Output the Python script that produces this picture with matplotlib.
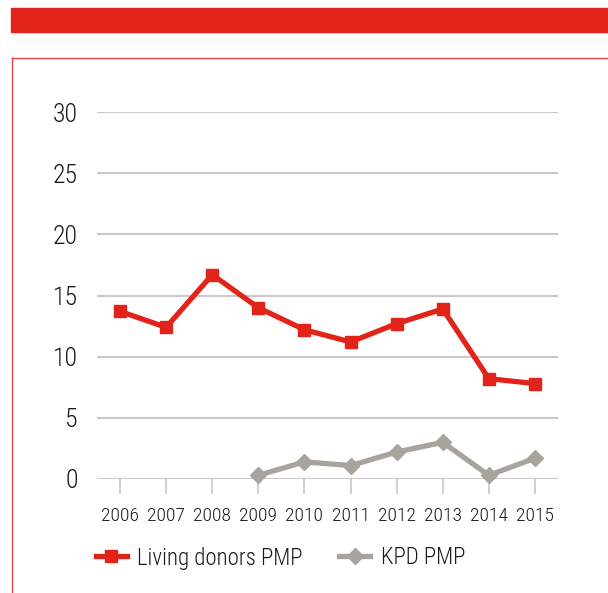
import matplotlib
matplotlib.use("Agg")
import matplotlib.pyplot as plt
from matplotlib.patches import Rectangle
from matplotlib.lines import Line2D
import numpy as np

years = ['2006', '2007', '2008', '2009', '2010', '2011', '2012', '2013', '2014', '2015']
living_donors = [13.7, 12.4, 16.7, 14.0, 12.2, 11.2, 12.7, 13.9, 8.2, 7.8]
kpd = [np.nan, np.nan, np.nan, 0.3, 1.4, 1.1, 2.2, 3.0, 0.3, 1.7]

red = '#E2231A'
grey = '#A8A39D'
grid_col = '#C8C8C8'
text_col = '#1a1a1a'

plt.rcParams['font.family'] = ['Roboto Condensed', 'DejaVu Sans']
plt.rcParams['font.weight'] = 'light'

fig = plt.figure(figsize=(6.08, 5.93), dpi=100)

# red banner and the thin frame round the panel
fig.patches.append(Rectangle((11 / 608, 1 - 32 / 593), 1, 24 / 593,
                             transform=fig.transFigure, color=red, zorder=0))
fig.lines.append(Line2D([12 / 608, 12 / 608], [0, 1 - 58 / 593],
                        transform=fig.transFigure, color='#E84545', lw=1))
fig.lines.append(Line2D([12 / 608, 1], [1 - 58 / 593, 1 - 58 / 593],
                        transform=fig.transFigure, color='#E84545', lw=1))

ax = fig.add_axes([97 / 608, 1 - 479 / 593, 461 / 608, 367 / 593])
x = np.arange(len(years))

ax.plot(x, living_donors, color=red, lw=3.8, marker='s', ms=8,
        label='Living donors PMP', clip_on=False, zorder=3)
ax.plot(x, kpd, color=grey, lw=3.8, marker='D', ms=8.5,
        label='KPD PMP', clip_on=False, zorder=3)

ax.set_xlim(-0.5, 9.5)
ax.set_ylim(0, 30)
ax.set_yticks(range(0, 31, 5))
ax.set_xticks(x)
ax.set_xticklabels(years)
ax.yaxis.grid(True, color=grid_col, lw=1.5)
ax.set_axisbelow(True)
for s in ax.spines.values():
    s.set_visible(False)

ax.tick_params(axis='y', length=0, labelsize=18.5, pad=14, colors=text_col)
ax.tick_params(axis='x', length=11, width=1.2, color=grid_col,
               labelsize=14, pad=9, labelcolor=text_col)

fig.legend(*ax.get_legend_handles_labels(), loc='center left',
           bbox_to_anchor=(96 / 608, 1 - 558 / 593), ncol=2,
           frameon=False, fontsize=16.5, handlelength=1.35, columnspacing=1.6,
           handletextpad=0.45, borderpad=0, borderaxespad=0,
           labelcolor=text_col)

fig.savefig('out.png', dpi=100)
